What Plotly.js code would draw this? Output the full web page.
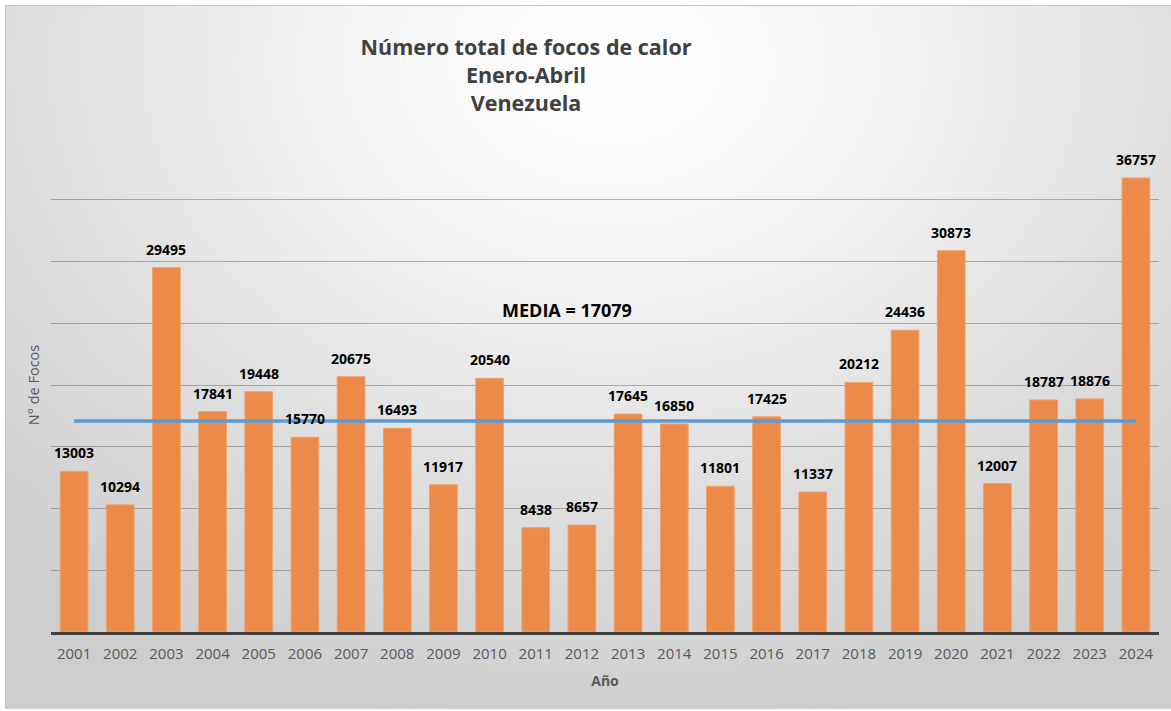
<!DOCTYPE html>
<html>
<head>
<meta charset="utf-8">
<script src="https://cdn.plot.ly/plotly-3.0.1.min.js"></script>
<style>
  html, body { margin: 0; padding: 0; background: #ffffff; }
  #wrap { position: relative; width: 1171px; height: 711px; overflow: hidden; }
  #bg {
    position: absolute; left: 5px; top: 5px; width: 1166px; height: 704px;
    box-sizing: border-box; border-left: 1px solid #c4c4c4; border-top: 1px solid #c4c4c4;
    background: radial-gradient(ellipse 75% 95% at 52% 8%, #ffffff 0%, #f2f2f2 35%, #dfdfdf 65%, #cecece 100%);
  }
  #chart { position: absolute; left: 0; top: 0; width: 1171px; height: 711px; }
</style>
</head>
<body>
<div id="wrap">
  <div id="bg"></div>
  <div id="chart"></div>
</div>
<script>
// ---- Data ----
const years = ["2001","2002","2003","2004","2005","2006","2007","2008","2009","2010","2011","2012",
               "2013","2014","2015","2016","2017","2018","2019","2020","2021","2022","2023","2024"];
const focos = [13003, 10294, 29495, 17841, 19448, 15770, 20675, 16493, 11917, 20540, 8438, 8657,
               17645, 16850, 11801, 17425, 11337, 20212, 24436, 30873, 12007, 18787, 18876, 36757];
const media = 17079;
const titleLines = ["Número total de focos de calor", "Enero-Abril", "Venezuela"];
const mediaLabel = "MEDIA = " + media;

const FONT = "Open Sans, Noto Sans, Liberation Sans, sans-serif";

const barTrace = {
  type: "bar",
  x: years,
  y: focos,
  marker: { color: "#ec8a4a", line: { color: "#f1a06a", width: 1 } },
  hoverinfo: "x+y",
  showlegend: false
};

const meanTrace = {
  type: "scatter",
  mode: "lines",
  x: [years[0], years[years.length - 1]],
  y: [media, media],
  line: { color: "#5b9bd5", width: 3.5 },
  hoverinfo: "y",
  showlegend: false
};

// category axis: annotations use the category's serial index
const labelAnnotations = years.map((yr, i) => ({
  x: i,
  y: focos[i],
  xref: "x",
  yref: "y",
  text: "<b>" + focos[i] + "</b>",
  showarrow: false,
  yanchor: "bottom",
  yshift: 7,
  font: { family: FONT, size: 14, color: "#000000" }
}));

const layout = {
  width: 1171,
  height: 711,
  margin: { l: 51, r: 12, t: 138, b: 79 },
  paper_bgcolor: "rgba(0,0,0,0)",
  plot_bgcolor: "rgba(0,0,0,0)",
  bargap: 0.4,
  title: {
    text: "<b>" + titleLines.join("<br>") + "</b>",
    x: 526 / 1171,
    xanchor: "center",
    xref: "container",
    y: 1 - 55 / 711,
    yanchor: "top",
    yref: "container",
    font: { family: FONT, size: 21.5, color: "#404040" }
  },
  xaxis: {
    type: "category",
    categoryorder: "array",
    categoryarray: years,
    range: [-0.5, years.length - 0.5],
    autorange: false,
    showline: true,
    linecolor: "#404040",
    linewidth: 3,
    ticks: "",
    ticklabelstandoff: 6,
    showgrid: false,
    tickfont: { family: FONT, size: 15, color: "#595959" },
    title: {
      text: "<b>Año</b>",
      standoff: 15,
      font: { family: FONT, size: 14, color: "#595959" }
    }
  },
  yaxis: {
    range: [0, 40000],
    autorange: false,
    dtick: 5000,
    showticklabels: false,
    ticks: "",
    showgrid: true,
    gridcolor: "rgba(115,115,115,0.55)",
    gridwidth: 1,
    zeroline: false,
    showline: false,
    title: {
      text: "N° de Focos",
      standoff: 6,
      font: { family: FONT, size: 14.5, color: "#595959" }
    }
  },
  annotations: labelAnnotations.concat([{
    xref: "paper",
    yref: "paper",
    x: (567 - 51) / 1108,
    y: (632 - 310) / 494,
    xanchor: "center",
    yanchor: "middle",
    text: "<b>" + mediaLabel + "</b>",
    showarrow: false,
    font: { family: FONT, size: 18, color: "#000000" }
  }])
};

Plotly.newPlot("chart", [barTrace, meanTrace], layout, { displayModeBar: false });
</script>
</body>
</html>
